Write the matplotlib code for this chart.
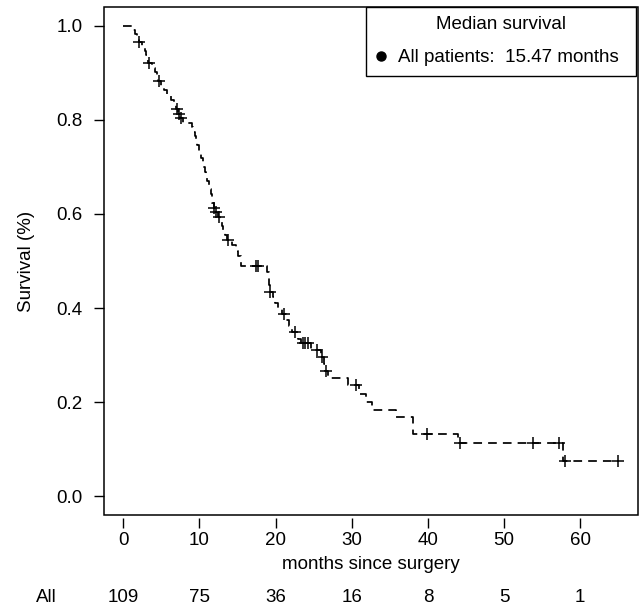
import matplotlib
matplotlib.use("Agg")
import matplotlib.pyplot as plt
from matplotlib.lines import Line2D
from matplotlib.patches import Rectangle
import numpy as np

plt.rcParams['font.family'] = ['Liberation Sans', 'DejaVu Sans']

# Kaplan-Meier step curve (months, survival after the step)
step_months = [0, 1.1, 1.5, 1.8, 2.0, 2.5, 2.8, 3.0, 3.2, 3.3, 3.8, 4.1, 4.4, 4.6,
               5.0, 5.4, 5.8, 6.2, 6.6, 6.9, 7.2, 7.5, 7.8,
               9.0, 9.2, 9.4, 9.5, 9.7, 9.9, 10.0, 10.2, 10.4, 10.5, 10.7, 10.9,
               11.0, 11.2, 11.3, 11.5, 11.6, 11.7, 11.85, 12.1, 12.4,
               12.7, 12.9, 13.1, 13.3, 13.6, 14.3, 14.8, 15.1, 15.47,
               18.9, 19.1, 19.15, 19.2, 19.6, 19.9, 20.3, 20.8, 21.4, 21.8, 22.2,
               23.0, 23.3, 24.7, 25.9, 26.3, 26.5, 26.9, 29.5, 31.0, 31.9, 32.6,
               35.8, 38.1, 44.0, 57.7, 65.0]
step_surv = [1.000, 0.991, 0.982, 0.974, 0.965, 0.956, 0.947, 0.938, 0.929, 0.920,
             0.911, 0.902, 0.892, 0.883, 0.873, 0.863, 0.853, 0.843, 0.833, 0.823,
             0.813, 0.804, 0.794,
             0.785, 0.775, 0.766, 0.756, 0.747, 0.737, 0.728, 0.718, 0.709, 0.699,
             0.690, 0.680, 0.671, 0.661, 0.652, 0.642, 0.633, 0.623, 0.613, 0.604,
             0.594, 0.584, 0.574, 0.565, 0.555, 0.545, 0.534, 0.522, 0.511, 0.489,
             0.476, 0.462, 0.448, 0.434, 0.423, 0.411, 0.400, 0.388, 0.375, 0.361,
             0.348, 0.335, 0.325, 0.311, 0.296, 0.281, 0.266, 0.252, 0.236, 0.218,
             0.200, 0.183, 0.168, 0.133, 0.114, 0.0745, 0.0745]

# censored observations (months)
censor_months = [2.1, 3.4, 4.7, 7.0, 7.3, 7.6, 11.9, 12.2, 12.5, 13.8, 17.4, 17.7,
                 19.3, 21.1, 22.5, 23.6, 23.9, 24.2, 25.4, 26.1, 26.6, 30.6,
                 39.9, 44.2, 53.8, 57.2, 58.0, 65.0]

risk_months = [0, 10, 20, 30, 40, 50, 60]
risk_counts = [109, 75, 36, 16, 8, 5, 1]
median_months = 15.47

# survival value at each censor time, taken from the step function
idx = np.searchsorted(step_months, censor_months, side='right') - 1
censor_surv = np.array(step_surv)[idx]

fs = 13.5

fig = plt.figure(figsize=(6.41, 6.08), dpi=100)
ax = fig.add_axes([0.1615, 0.153, 0.834, 0.8355])

ax.step(step_months, step_surv, where='post', color='black', lw=1.25,
        linestyle=(0, (5, 3.5)))
ax.plot(censor_months, censor_surv, linestyle='none', marker='+', color='black',
        ms=9, mew=1.1)

ax.set_xlim(-2.6, 67.6)
ax.set_ylim(-0.04, 1.04)
ax.set_xticks(risk_months)
ax.set_yticks([0.0, 0.2, 0.4, 0.6, 0.8, 1.0])
ax.set_yticklabels(['0.0', '0.2', '0.4', '0.6', '0.8', '1.0'])

for s in ax.spines.values():
    s.set_visible(False)
ax.spines['bottom'].set_position(('outward', 2))
ax.add_patch(Rectangle((0, 0), 1, 1, transform=ax.transAxes, fill=False,
                       lw=1.1, color='black', clip_on=False))
ax.tick_params(axis='x', direction='out', length=7.5, width=1, pad=3, labelsize=fs)
ax.tick_params(axis='y', direction='out', length=7.5, width=1, pad=7.5, labelsize=fs)

ax.set_xlabel('months since surgery', fontsize=fs)
ax.xaxis.set_label_coords(0.5, -0.081)
ax.set_ylabel('Survival (%)', fontsize=fs)
ax.yaxis.set_label_coords(-0.129, 0.5)

# numbers at risk
for m, n in zip(risk_months, risk_counts):
    ax.text(m, -0.163, str(n), transform=ax.get_xaxis_transform(), ha='center',
            va='center', fontsize=fs, clip_on=False)
ax.text(-10.1, -0.163, 'All', transform=ax.get_xaxis_transform(), ha='center',
        va='center', fontsize=fs, clip_on=False)

handle = Line2D([], [], linestyle='none', marker='o', color='black', ms=6.5)
leg = ax.legend([handle], ['All patients:  %.2f months' % median_months],
                title='Median survival', loc='upper right',
                bbox_to_anchor=(0.491, 0.0, 0.505, 1.0), mode='expand',
                borderaxespad=0.0, fontsize=fs, title_fontsize=fs,
                fancybox=False, edgecolor='black', framealpha=1.0,
                handlelength=0.6, handletextpad=0.6, borderpad=0.5,
                labelspacing=0.85)
leg.get_frame().set_linewidth(1.0)

fig.savefig('out.png', dpi=100)
